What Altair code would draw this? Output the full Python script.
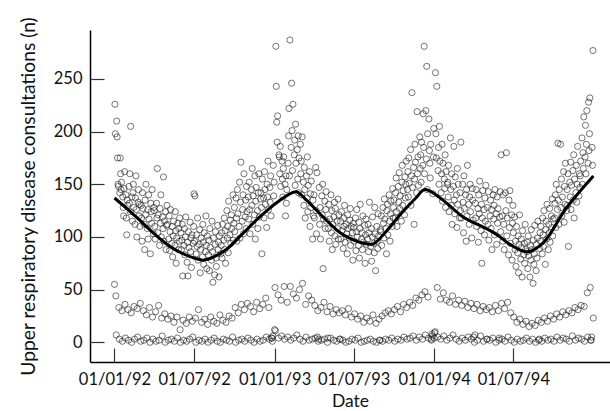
import datetime as dt
import pandas as pd
import altair as alt

# ---- weekday (Mon-Fri) consultations, month by month ----
wd92 = [55, 226, 198, 210, 195, 175, 150, 148, 142, 175, 160, 145, 152, 138, 128, 120, 146, 162, 140, 118, 102, 135, 130,
        148, 132, 160, 124, 205, 138, 115, 142, 150, 128, 112, 137, 158, 126, 100, 133, 145, 120, 131, 110,
        130, 118, 96, 142, 127, 112, 88, 135, 121, 150, 108, 126, 98, 140, 117, 84, 132, 124, 113, 145, 103, 128,
        125, 110, 98, 132, 118, 165, 104, 121, 92, 127, 113, 140, 100, 119, 108, 157, 96, 115, 124, 88, 111, 130,
        112, 98, 120, 87, 105, 126, 94, 110, 81, 101, 115, 92, 124, 106, 75, 99, 113, 88, 108, 96, 118,
        104, 88, 97, 112, 63, 92, 108, 83, 100, 119, 76, 95, 63, 105, 90, 114, 86, 99, 71, 102, 94, 110,
        141, 96, 139, 84, 102, 91, 118, 78, 93, 107, 66, 88, 99, 81, 112, 95, 74, 104, 86, 120, 92, 70, 101,
        83, 97, 68, 108, 90, 78, 115, 86, 57, 99, 64, 93, 105, 80, 72, 111, 88, 95, 62, 101, 84,
        92, 104, 80, 112, 97, 118, 88, 106, 75, 125, 99, 110, 85, 134, 102, 116, 94, 121, 108, 140, 97, 113,
        128, 105, 137, 118, 96, 145, 122, 110, 152, 99, 133, 171, 115, 126, 140, 103, 160, 119, 135, 108, 148, 124,
        138, 117, 152, 126, 103, 145, 130, 165, 112, 139, 121, 158, 98, 134, 147, 125, 108, 142, 160, 119, 136,
        142, 128, 84, 155, 137, 118, 162, 145, 131, 109, 150, 138, 172, 126, 147, 133, 158, 120, 4, 6, 168, 139, 152]
wd93 = [12, 281, 243, 209, 190, 215, 178, 176, 160, 186, 148, 172, 155, 138, 165, 176, 150, 120, 158, 132, 145,
        170, 196, 222, 158, 287, 185, 246, 201, 163, 226, 178, 192, 149, 207, 170, 183, 155, 196, 142, 175,
        188, 160, 172, 140, 195, 152, 130, 166, 145, 118, 158, 137, 176, 124, 149, 162, 110, 141, 128, 153, 98, 135, 120,
        140, 118, 166, 125, 103, 161, 5, 3, 147, 112, 128, 98, 139, 121, 150, 70, 117, 134, 108, 126, 143, 115,
        4, 108, 131, 96, 117, 140, 104, 125, 88, 112, 119, 133, 101, 127, 93, 115, 108, 136, 98, 121, 3,
        115, 98, 124, 106, 89, 118, 110, 130, 95, 112, 103, 84, 121, 108, 99, 116, 127, 92, 110, 104, 78, 113,
        109, 96, 118, 87, 105, 126, 100, 92, 114, 80, 108, 131, 98, 104, 88, 120, 95, 111, 75, 102, 117, 93,
        98, 112, 86, 104, 133, 91, 108, 77, 100, 119, 94, 85, 128, 103, 68, 110, 96, 89, 122, 101, 2, 107,
        105, 120, 92, 128, 113, 99, 136, 117, 108, 84, 125, 131, 102, 140, 115, 96, 122, 134, 110, 146, 118, 128,
        135, 118, 142, 156, 124, 110, 148, 133, 161, 127, 139, 115, 152, 168, 130, 144, 121, 157, 137, 150, 172,
        145, 162, 138, 175, 151, 183, 130, 158, 237, 147, 166, 112, 155, 188, 171, 142, 219, 160, 176, 149, 195, 165,
        178, 152, 190, 168, 217, 185, 281, 160, 220, 174, 262, 145, 198, 212, 182, 170, 156, 188, 8, 6, 141, 176, 203]
wd94 = [10, 256, 198, 175, 243, 163, 185, 150, 205, 172, 142, 160, 188, 134, 170, 155, 146, 178, 128, 162, 150,
        152, 138, 168, 124, 194, 145, 130, 160, 112, 148, 186, 135, 122, 157, 140, 109, 165, 131, 150, 118,
        142, 125, 190, 118, 150, 133, 104, 158, 127, 140, 96, 145, 120, 168, 131, 112, 138, 150, 124, 99, 146, 135, 116,
        5, 7, 132, 118, 145, 110, 127, 95, 140, 122, 153, 106, 131, 75, 118, 144, 126, 102, 137, 115, 149,
        3, 128, 112, 143, 97, 120, 135, 108, 126, 88, 140, 117, 130, 102, 145, 122, 93, 138, 113, 127, 4, 119,
        143, 105, 178, 120, 96, 140, 112, 88, 142, 125, 180, 101, 118, 83, 135, 109, 144, 94, 121, 78, 113, 130,
        104, 119, 88, 96, 72, 110, 85, 101, 66, 93, 121, 79, 98, 90, 62, 106, 83, 94, 75, 112, 88,
        86, 95, 70, 101, 82, 62, 92, 78, 107, 88, 56, 97, 74, 84, 111, 68, 93, 80, 99, 115, 3, 89, 104,
        96, 110, 84, 118, 102, 91, 125, 74, 107, 115, 98, 131, 88, 112, 104, 127, 95, 120, 109, 136, 101, 117,
        118, 132, 140, 109, 150, 126, 189, 135, 112, 145, 188, 128, 155, 120, 138, 162, 114, 148, 131, 170, 125,
        145, 130, 160, 91, 152, 138, 171, 126, 149, 163, 135, 178, 118, 155, 142, 168, 133, 150, 186, 139, 160, 147,
        158, 172, 194, 150, 180, 165, 214, 176, 206, 160, 188, 220, 170, 228, 182, 198, 232, 2, 5, 185, 168, 277]

# ---- Saturday consultations ----
sat92 = [44, 33, 30, 36, 31, 28, 34, 32, 37, 30, 26, 33, 24, 29, 35, 23, 27, 22, 25, 19, 24, 12, 21, 18, 24, 20,
         23, 31, 19, 22, 17, 24, 20, 18, 26, 21, 19, 25, 23, 33, 28, 36, 31, 37, 34, 29, 38, 32, 36, 42, 33, 4]
sat93 = [52, 45, 40, 53, 38, 53, 46, 42, 50, 56, 36, 44, 40, 35, 30, 33, 38, 29, 34, 27, 31, 28, 30, 26, 32, 24,
         27, 22, 25, 19, 23, 20, 26, 18, 22, 25, 28, 30, 27, 31, 34, 29, 36, 33, 38, 35, 42, 40, 45, 48, 43, 3]
sat94 = [4, 52, 41, 47, 40, 38, 44, 36, 40, 35, 39, 33, 37, 32, 36, 30, 34, 31, 33, 29, 35, 30, 37, 32, 38, 28,
         24, 19, 22, 17, 20, 15, 18, 16, 21, 19, 23, 20, 25, 22, 27, 24, 29, 26, 30, 28, 33, 31, 35, 34, 47, 52, 23]

# ---- Sunday consultations ----
sun92 = [7, 3, 1, 4, 2, 0, 3, 5, 1, 2, 4, 0, 3, 1, 2, 6, 0, 2, 3, 1, 4, 0, 2, 1, 3, 5,
         0, 2, 1, 3, 0, 2, 4, 1, 0, 3, 2, 1, 5, 0, 2, 3, 1, 4, 2, 0, 3, 1, 2, 5, 3, 1]
sun93 = [11, 4, 6, 3, 5, 2, 4, 7, 3, 1, 5, 2, 3, 4, 1, 2, 3, 0, 4, 2, 1, 3, 2, 0, 1, 3,
         2, 4, 0, 1, 2, 3, 1, 0, 2, 1, 3, 2, 4, 1, 3, 2, 5, 3, 4, 6, 2, 5, 3, 7, 4, 2]
sun94 = [9, 5, 3, 6, 2, 4, 7, 3, 1, 4, 2, 5, 3, 0, 2, 6, 1, 3, 2, 4, 0, 2, 3, 1, 5, 2,
         0, 3, 1, 2, 4, 1, 3, 0, 2, 1, 4, 2, 3, 1, 5, 2, 4, 3, 1, 6, 2, 4, 3, 1, 5, 2]

# ---- smoothed trend line ----
curve_dates = ["1992-01-01", "1992-02-01", "1992-03-01", "1992-04-01", "1992-05-07", "1992-06-01",
               "1992-07-01", "1992-07-22", "1992-08-15", "1992-09-15", "1992-10-15", "1992-11-28",
               "1993-01-01", "1993-02-01", "1993-02-20", "1993-03-15", "1993-04-22", "1993-05-31",
               "1993-07-01", "1993-07-30", "1993-08-15", "1993-09-21", "1993-10-15", "1993-11-20",
               "1993-12-11", "1994-01-21", "1994-03-08", "1994-04-15", "1994-05-09", "1994-06-01",
               "1994-06-23", "1994-08-01", "1994-09-06", "1994-10-31", "1994-12-31"]
curve_vals = [137, 126, 115, 103, 91, 85,
              80, 78, 81, 89, 101, 119,
              131, 140, 143, 135, 119, 104,
              97, 93.5, 93.5, 109, 121, 137,
              145, 135, 119, 111, 106, 100,
              93, 86, 94, 128, 158]

x_ticks = ["1992-01-01", "1992-07-01", "1993-01-01", "1993-07-01", "1994-01-01", "1994-07-01"]
y_ticks = [0, 50, 100, 150, 200, 250]

# ---- build the daily table ----
sources = {1992: (wd92, sat92, sun92), 1993: (wd93, sat93, sun93), 1994: (wd94, sat94, sun94)}
counters = {}
rows = []
d = dt.date(1992, 1, 1)
while d <= dt.date(1994, 12, 31):
    k = d.weekday()
    cat = 0 if k < 5 else (1 if k == 5 else 2)
    src = sources[d.year][cat]
    key = (d.year, cat)
    i = counters.get(key, 0)
    if i < len(src):
        rows.append({"date": d.isoformat(), "n": src[i]})
    counters[key] = i + 1
    d += dt.timedelta(days=1)
daily = pd.DataFrame(rows)
trend = pd.DataFrame({"date": curve_dates, "n": curve_vals})


def dtm(s):
    y, m, dd = (int(p) for p in s.split("-"))
    return alt.DateTime(year=y, month=m, date=dd, utc=True)


xtick_vals = [dtm(s) for s in x_ticks]
xscale = alt.Scale(type="utc", domain=[dtm("1991-11-06"), dtm("1995-02-07")])
yscale = alt.Scale(domain=[-18.7, 296.5])

FONT = "Lato"

points = alt.Chart(daily).mark_point(
    shape="circle", filled=False, size=38, color="#1a1a1a", strokeWidth=0.6, opacity=1
).encode(
    x=alt.X("date:T", scale=xscale,
            axis=alt.Axis(orient="bottom", values=xtick_vals, format="%d/%m/%y", ticks=False, tickSize=0,
                          domainColor="black", domainWidth=1.5, grid=False, labelOverlap=False,
                          labelFont=FONT, labelFontSize=16.5, labelColor="#111", labelPadding=9,
                          title="Date", titleFont=FONT, titleFontSize=17.5, titleFontWeight="normal",
                          titleColor="#111", titlePadding=5)),
    y=alt.Y("n:Q", scale=yscale,
            axis=alt.Axis(orient="left", values=y_ticks, ticks=False, tickSize=0,
                          domainColor="black", domainWidth=1.5, grid=False,
                          labelFont=FONT, labelFontSize=16.5, labelColor="#111", labelPadding=8,
                          title="Upper respiratory disease consultations (n)", titleFont=FONT,
                          titleFontSize=19.3, titleFontWeight="normal", titleColor="#111", titlePadding=15)),
)

line = alt.Chart(trend).mark_line(color="black", strokeWidth=3, interpolate="catmull-rom").encode(
    x=alt.X("date:T", scale=xscale,
            axis=alt.Axis(orient="bottom", values=xtick_vals, offset=-14, tickSize=14, tickColor="#333",
                          tickWidth=1.2, labels=False, domain=False, grid=False, title=None)),
    y=alt.Y("n:Q", scale=yscale,
            axis=alt.Axis(orient="left", values=y_ticks, offset=-14, tickSize=14, tickColor="#333",
                          tickWidth=1.2, labels=False, domain=False, grid=False, title=None)),
)

chart = alt.layer(points, line).resolve_axis(x="independent", y="independent").properties(
    width=520, height=332,
    padding={"left": 90, "top": 30, "right": 0, "bottom": 49},
    autosize=alt.AutoSizeParams(type="none"),
    background="white",
).configure_view(strokeWidth=0)

chart.save("out.html", embed_options={"renderer": "svg", "actions": False})
